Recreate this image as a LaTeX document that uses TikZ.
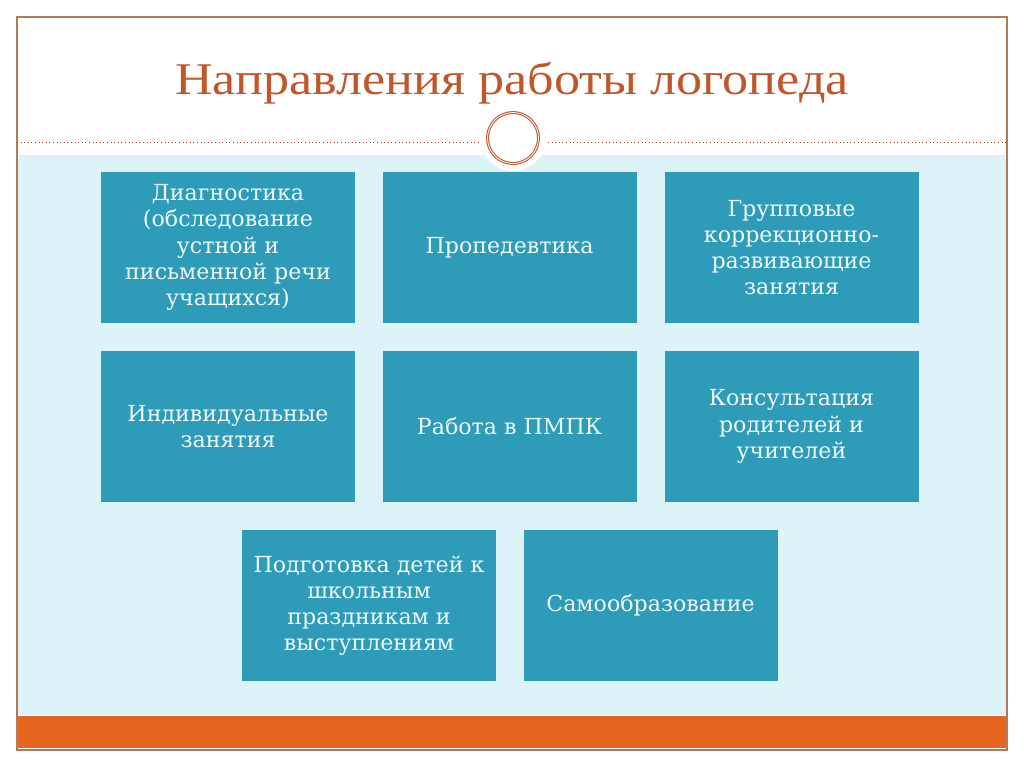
\documentclass[tikz,border=0pt]{standalone}
\usepackage{fontspec}
\setmainfont{DejaVu Serif}
\newfontfamily\titlefont[FakeStretch=1.15]{Liberation Serif}
\definecolor{boxblue}{HTML}{2E9BB9}
\definecolor{lightbg}{HTML}{DDF3F8}
\definecolor{orangebar}{HTML}{E5651E}
\definecolor{titlecol}{HTML}{C0572A}
\definecolor{framecol}{HTML}{B07A5A}
\definecolor{boxtext}{HTML}{EEFAFC}
\tikzset{
  itembox/.style={fill=boxblue, minimum width=190.5pt, minimum height=113.25pt, inner sep=0pt,
    text=boxtext, align=center, font=\fontsize{16.6}{19.6}\selectfont},
}
\begin{document}
\begin{tikzpicture}[x=0.75pt,y=-0.75pt]
\useasboundingbox (0,0) rectangle (1024,768);
\fill[white] (0,0) rectangle (1024,768);
% light background
\fill[lightbg] (17,155) rectangle (1007,715);
% orange bar
\fill[orangebar] (17,716) rectangle (1007,748);
\draw[framecol!60, line width=0.6pt] (17,749) -- (1007,749);
% frame
\draw[framecol, line width=0.8pt] (17,17) rectangle (1007,750);
% dotted line
\draw[titlecol!80!black, dotted, line width=0.7pt] (17,142) -- (478,142);
\draw[titlecol!80!black, dotted, line width=0.7pt] (548,142) -- (1007,142);
% circle ornament
\fill[white] (513,138) circle (33);
\draw[titlecol, line width=2.2pt] (513,138) circle (25.5);
\draw[white, line width=0.6pt] (513,138) circle (25.5);
% title
\node[anchor=base, inner sep=0pt] (title) at (512,94) {\titlefont\fontsize{34}{40}\selectfont\color{titlecol}Направления работы логопеда};
% boxes
\node[itembox] (b1) at (228,247.5) {Диагностика\\(обследование\\устной и\\письменной речи\\учащихся)};
\node[itembox] (b2) at (509.5,247.5) {Пропедевтика};
\node[itembox] (b3) at (791.5,247.5) {Групповые\\коррекционно-\\развивающие\\занятия};
\node[itembox] (b4) at (228,426.5) {Индивидуальные\\занятия};
\node[itembox] (b5) at (509.5,426.5) {Работа в ПМПК};
\node[itembox] (b6) at (791.5,426.5) {Консультация\\родителей и\\учителей};
\node[itembox] (b7) at (369,605.5) {Подготовка детей к\\школьным\\праздникам и\\выступлениям};
\node[itembox] (b8) at (650.5,605.5) {Самообразование};
\end{tikzpicture}
\end{document}
